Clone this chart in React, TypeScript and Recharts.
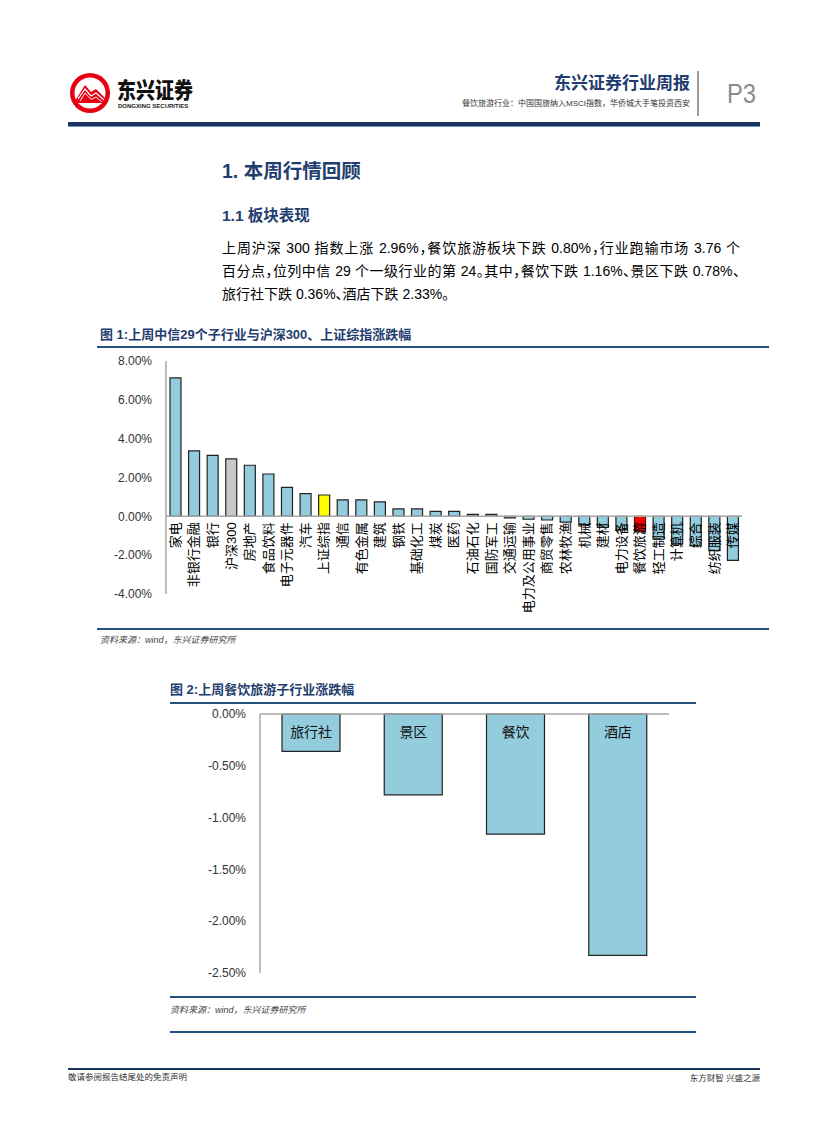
import { Bar, BarChart, Cell, ReferenceLine, XAxis, YAxis } from "recharts";

// 图1 数据：中信一级行业 + 沪深300 + 上证综指，上周涨跌幅(%)
const industries = [
  "家电", "非银行金融", "银行", "沪深300", "房地产", "食品饮料", "电子元器件", "汽车",
  "上证综指", "通信", "有色金属", "建筑", "钢铁", "基础化工", "煤炭", "医药",
  "石油石化", "国防军工", "交通运输", "电力及公用事业", "商贸零售", "农林牧渔", "机械",
  "建材", "电力设备", "餐饮旅游", "轻工制造", "计算机", "综合", "纺织服装", "传媒",
];
const industryChange = [
  7.13, 3.37, 3.14, 2.96, 2.63, 2.18, 1.49, 1.17,
  1.1, 0.85, 0.85, 0.74, 0.38, 0.38, 0.26, 0.26,
  0.1, 0.1, -0.08, -0.15, -0.19, -0.3, -0.43,
  -0.57, -0.7, -0.8, -1.18, -1.42, -1.52, -1.77, -2.27,
];
const changeTicks = [-4, -2, 0, 2, 4, 6, 8];

// 图2 数据：餐饮旅游子行业
const subIndustries = ["旅行社", "景区", "餐饮", "酒店"];
const subChange = [-0.36, -0.78, -1.16, -2.33];
const subTicks = [-2.5, -2, -1.5, -1, -0.5, 0];

const highlight: Record<string, string> = {
  沪深300: "#C8C8C8",
  上证综指: "#FFFF00",
  餐饮旅游: "#FF0000",
};

const BAR = "#93CDDD";
const NAVY = "#1F3D6E";
const RULE = "#24507F";
const CJK = "'Liberation Sans', 'Noto Sans CJK SC', sans-serif";

const data1 = industries.map((name, i) => ({ name, value: industryChange[i] }));
const data2 = subIndustries.map((name, i) => ({ name, value: subChange[i] }));

// chart 1 geometry
const C1_W = 660;
const C1_H = 290;
const C1_TOP = 11;
const C1_XH = 46;
const C1_PLOT_H = C1_H - C1_TOP - C1_XH;
const ZERO1 = C1_TOP + (C1_PLOT_H * 8) / 12;

// chart 2 geometry
const C2_TOP = 9;

const pct = (v: number) => `${v.toFixed(2)}%`;

function IndustryTick({ x, payload }: any) {
  const y = ZERO1 + 6;
  return (
    <text
      x={x}
      y={y}
      transform={`rotate(-90 ${x} ${y})`}
      textAnchor="end"
      dominantBaseline="central"
      fontSize={13}
      fill="#000"
      fontFamily={CJK}
    >
      {payload.value}
    </text>
  );
}

function SubTick({ x, payload }: any) {
  return (
    <text x={x} y={C2_TOP + 23} textAnchor="middle" fontSize={14} fill="#111" fontFamily={CJK}>
      {payload.value}
    </text>
  );
}

function T({ x, y, size, children, style }: any) {
  return (
    <div
      style={{
        position: "absolute",
        left: x,
        top: y - size * 0.7,
        fontSize: size,
        lineHeight: `${size * 1.4}px`,
        whiteSpace: "nowrap",
        ...style,
      }}
    >
      {children}
    </div>
  );
}

function Rule({ x, y, w, h = 2, color = RULE }: any) {
  return <div style={{ position: "absolute", left: x, top: y, width: w, height: h, background: color }} />;
}

function Logo() {
  return (
    <svg style={{ position: "absolute", left: 69, top: 72 }} width={44} height={44}>
      <circle cx={21} cy={21} r={20} fill="#E50012" />
      <circle cx={21} cy={21} r={15.5} fill="#fff" />
      <path d="M6 29 L16 13 L22 20 L27 17 L37 27 L37 31 L6 31 Z" fill="#E50012" />
      <path d="M9 27 L16 17 L22 24 L27 21 L35 28" stroke="#fff" strokeWidth={1.2} fill="none" />
      <path d="M11 29 L16 21 L22 27.5 L27 25 L33 30" stroke="#fff" strokeWidth={1} fill="none" />
    </svg>
  );
}

export default function App() {
  const line = {
    textAlign: "justify" as const,
    textAlignLast: "justify" as const,
    whiteSpace: "nowrap" as const,
  };
  return (
    <div
      style={{
        position: "absolute",
        left: 0,
        top: 0,
        width: 827,
        height: 1122,
        background: "#fff",
        fontFamily: CJK,
        overflow: "hidden",
      }}
    >
      {/* header */}
      <Logo />
      <T x={117} y={91} size={19} style={{ fontWeight: 900, color: "#111", transform: "scaleY(1.12)" }}>
        东兴证券
      </T>
      <T x={118} y={106} size={6} style={{ fontWeight: 700, color: "#222", fontFamily: "'Liberation Sans', sans-serif" }}>
        DONGXING SECURITIES
      </T>
      <div
        style={{
          position: "absolute",
          right: 827 - 690,
          top: 72,
          fontSize: 17,
          lineHeight: "24px",
          fontWeight: 700,
          color: NAVY,
          whiteSpace: "nowrap",
        }}
      >
        东兴证券行业周报
      </div>
      <div
        style={{
          position: "absolute",
          right: 827 - 690,
          top: 97,
          fontSize: 8,
          lineHeight: "14px",
          color: "#333",
          whiteSpace: "nowrap",
        }}
      >
        餐饮旅游行业：中国国旅纳入MSCI指数，华侨城大手笔投资西安
      </div>
      <Rule x={697} y={71} w={1.5} h={45} color="#999" />
      <T
        x={727}
        y={94}
        size={28}
        style={{ color: "#8c8c8c", transform: "scaleX(0.85)", transformOrigin: "left center" }}
      >
        P3
      </T>
      <Rule x={68} y={122} w={692} h={4} color="#1B355F" />
      <Rule x={68} y={126} w={692} h={1} color="#6A9AC8" />

      {/* section heading */}
      <T x={222} y={172} size={19.5} style={{ fontWeight: 700, color: NAVY }}>
        1. 本周行情回顾
      </T>
      <T x={222} y={216} size={15.5} style={{ fontWeight: 700, color: NAVY }}>
        1.1 板块表现
      </T>
      <div
        style={{
          position: "absolute",
          left: 222,
          top: 237,
          width: 518,
          lineHeight: "23px",
          fontSize: 14,
          color: "#000",
          fontFeatureSettings: '"halt"',
        }}
      >
        <div style={line}>上周沪深 300 指数上涨 2.96%，餐饮旅游板块下跌 0.80%，行业跑输市场 3.76 个</div>
        <div style={line}>百分点，位列中信 29 个一级行业的第 24。其中，餐饮下跌 1.16%、景区下跌 0.78%、</div>
        <div>旅行社下跌 0.36%、酒店下跌 2.33%。</div>
      </div>

      {/* figure 1 */}
      <T x={100} y={335} size={13} style={{ fontWeight: 700, color: NAVY }}>
        图 1:上周中信29个子行业与沪深300、上证综指涨跌幅
      </T>
      <Rule x={97} y={346} w={672} h={2} />
      <div style={{ position: "absolute", left: 95, top: 350 }}>
        <BarChart
          width={C1_W}
          height={C1_H}
          data={data1}
          margin={{ top: C1_TOP, right: 13, bottom: 0, left: 0 }}
          barSize={11}
        >
          <YAxis
            width={71}
            domain={[-4, 8]}
            ticks={changeTicks}
            tickFormatter={pct}
            axisLine={{ stroke: "#A6A6A6", strokeWidth: 1.5 }}
            tickLine={false}
            tickSize={0}
            tickMargin={14}
            tick={{ fontSize: 12, fill: "#333", fontFamily: "'Liberation Sans', sans-serif" }}
            interval={0}
          />
          <XAxis
            dataKey="name"
            height={C1_XH}
            interval={0}
            axisLine={false}
            tickLine={false}
            tick={<IndustryTick />}
          />
          <Bar dataKey="value" stroke="#222" strokeWidth={1.2} isAnimationActive={false}>
            {data1.map((d) => (
              <Cell key={d.name} fill={highlight[d.name] ?? BAR} />
            ))}
          </Bar>
          <ReferenceLine y={0} stroke="#A6A6A6" strokeWidth={1.5} />
        </BarChart>
      </div>
      <Rule x={97} y={628} w={672} h={2} />
      <T x={100} y={640} size={9} style={{ fontStyle: "italic", color: "#444" }}>
        资料来源：wind，东兴证券研究所
      </T>

      {/* figure 2 */}
      <T x={170} y={690} size={13} style={{ fontWeight: 700, color: NAVY }}>
        图 2:上周餐饮旅游子行业涨跌幅
      </T>
      <Rule x={170} y={702} w={526} h={2} />
      <div style={{ position: "absolute", left: 170, top: 705 }}>
        <BarChart
          width={520}
          height={280}
          data={data2}
          margin={{ top: C2_TOP, right: 21, bottom: 0, left: 0 }}
          barSize={58}
        >
          <YAxis
            width={90}
            domain={[-2.5, 0]}
            ticks={subTicks}
            tickFormatter={pct}
            axisLine={{ stroke: "#A6A6A6", strokeWidth: 1.5 }}
            tickLine={false}
            tickSize={0}
            tickMargin={14}
            tick={{ fontSize: 12, fill: "#333", fontFamily: "'Liberation Sans', sans-serif" }}
            interval={0}
          />
          <XAxis
            dataKey="name"
            height={12}
            interval={0}
            axisLine={false}
            tickLine={false}
            tick={<SubTick />}
          />
          <Bar dataKey="value" fill={BAR} stroke="#222" strokeWidth={1.2} isAnimationActive={false} />
          <ReferenceLine y={0} stroke="#A6A6A6" strokeWidth={1.5} />
        </BarChart>
      </div>
      <Rule x={170} y={996} w={526} h={2} />
      <T x={170} y={1010} size={9} style={{ fontStyle: "italic", color: "#444" }}>
        资料来源：wind，东兴证券研究所
      </T>
      <Rule x={170} y={1031} w={526} h={1.5} />

      {/* footer */}
      <Rule x={68} y={1068} w={692} h={2} color="#1B355F" />
      <T x={68} y={1078} size={8.5} style={{ color: "#333" }}>
        敬请参阅报告结尾处的免责声明
      </T>
      <div
        style={{
          position: "absolute",
          right: 827 - 760,
          top: 1071,
          fontSize: 8.5,
          lineHeight: "14px",
          color: "#333",
          whiteSpace: "nowrap",
        }}
      >
        东方财智 兴盛之源
      </div>
    </div>
  );
}
